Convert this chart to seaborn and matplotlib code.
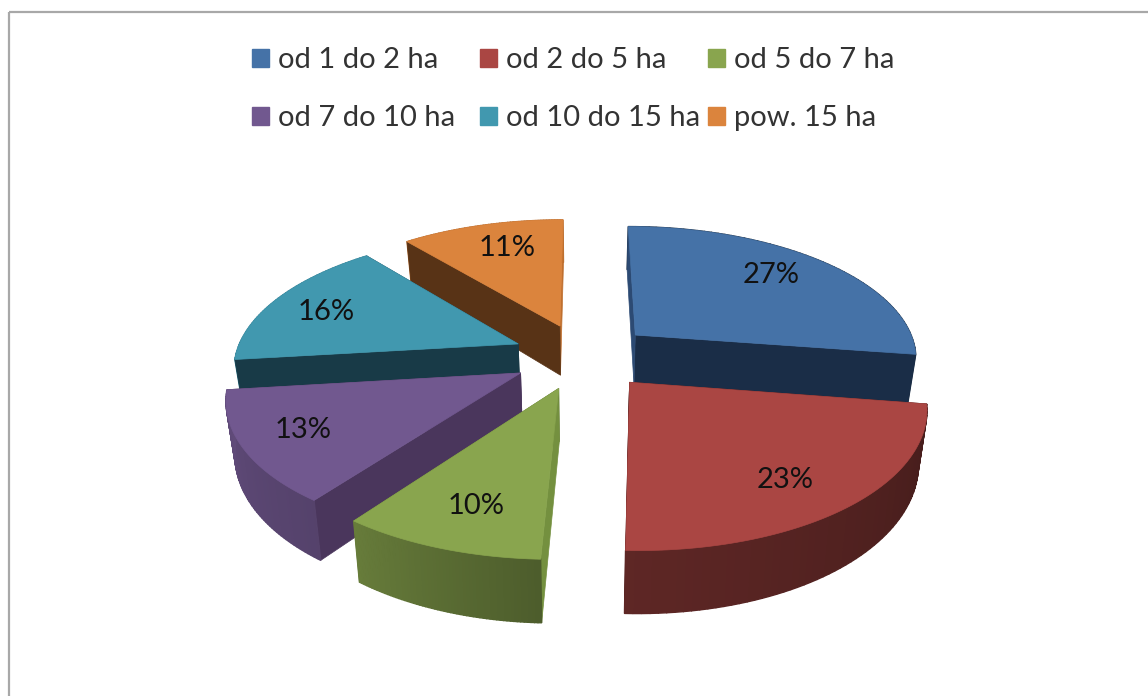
import numpy as np
import matplotlib
matplotlib.use("Agg")
import matplotlib.pyplot as plt
from matplotlib.patches import Patch, Rectangle
import seaborn as sns

labels = ["od 1 do 2 ha", "od 2 do 5 ha", "od 5 do 7 ha",
          "od 7 do 10 ha", "od 10 do 15 ha", "pow. 15 ha"]
shares = [27.4, 23.2, 9.5, 13.0, 15.9, 11.0]
colors = ["#4572A7", "#AA4643", "#89A54E", "#71588F", "#4198AF", "#DB843D"]
face_start = ["#2c4a73", "#3a1614", "#74903f", "#4a365c", "#183a47", "#583316"]
face_end = ["#1a2d47", "#3a1614", "#55692e", "#4a365c", "#183a47", "#c0702f"]
label_r = [0.70, 0.75, 0.68, 0.72, 0.62, 0.72]
label_nudge = [(3, -7), (-4, 8), (-6, 15), (-23, 4), (-39, -3), (5, -3)]
draw_order = [5, 4, 0, 3, 2, 1]
rim_behind = [True, False, False, False, True, True]
legend_columns = [(0, 3), (1, 4), (2, 5)]
legend_left = [228.6, 456.6, 684.6]

sns.set_theme(style="white")
plt.rcParams["font.family"] = ["Lato", "DejaVu Sans"]

fig = plt.figure(figsize=(11.48, 6.96), dpi=100)
ax = fig.add_axes([0, 0, 1, 1])
ax.set_xlim(0, 1148)
ax.set_ylim(696, 0)
ax.axis("off")

CX, CY, RX, RY, K, EXPL, DEPTH, SHRINK = 583, 356, 283, 132, 0.16, 0.25, 51, 0.975


def project(u, v, lower=False):
    w = 1 / (1 + K * v)
    x = CX + RX * u * w
    y = CY - RY * v * w
    if lower:
        x = CX + (x - CX) * SHRINK
        y = y + DEPTH * w
    return x, y


def rim_factor(t):
    return np.interp(t, [0, 97, 180, 216, 263, 360], [0.4, 0.40, 0.55, 0.75, 0.85, 0.85])


ends = np.cumsum(shares) / np.sum(shares) * 360
starts = ends - np.array(shares) / np.sum(shares) * 360

ax.add_patch(Rectangle((9, 12), 1400, 900, fill=False, ec="#a8a8a8", lw=1.6, zorder=1))

for z, i in enumerate(draw_order):
    t1, t2 = starts[i], ends[i]
    mid = np.radians((t1 + t2) / 2)
    ou, ov = EXPL * np.sin(mid), EXPL * np.cos(mid)
    th = np.radians(np.linspace(t1, t2, 60))
    au, av = ou + np.sin(th), ov + np.cos(th)
    zo = 2 + z
    # cut faces: the trailing face goes first so the leading one stays visible
    for idx, col in ((-1, face_end[i]), (0, face_start[i])):
        xa, ya = project(np.array([ou, au[idx]]), np.array([ov, av[idx]]))
        xb, yb = project(np.array([au[idx], ou]), np.array([av[idx], ov]), lower=True)
        ax.fill(np.r_[xa, xb], np.r_[ya, yb], color=col, lw=0.5, zorder=zo + 0.2)
    # outer rim, shaded segment by segment
    base = np.array(matplotlib.colors.to_rgb(colors[i]))
    rim_z = zo + (0.1 if rim_behind[i] else 0.3)
    for j in range(len(th) - 1):
        xa, ya = project(au[j:j + 2], av[j:j + 2])
        xb, yb = project(au[j:j + 2][::-1], av[j:j + 2][::-1], lower=True)
        f = rim_factor(np.degrees(th[j]))
        ax.fill(np.r_[xa, xb], np.r_[ya, yb], color=base * f, lw=1.0, zorder=rim_z)
    # top
    x, y = project(np.r_[ou, au], np.r_[ov, av])
    ax.fill(x, y, color=colors[i], lw=0.5, zorder=zo + 0.5)
    # label
    lx, ly = project(ou + label_r[i] * np.sin(mid), ov + label_r[i] * np.cos(mid))
    ax.text(lx + label_nudge[i][0], ly + label_nudge[i][1], f"{shares[i]:.0f}%",
            ha="center", va="center", fontsize=21, color="#111111", zorder=30)

legends = []
for col, left in zip(legend_columns, legend_left):
    legends.append(ax.legend([Patch(color=colors[i]) for i in col], [labels[i] for i in col],
                             loc="upper left", bbox_to_anchor=(left / 1148, 1 - 24 / 696),
                             frameon=False, fontsize=21, labelcolor="#333333",
                             handlelength=0.6, handleheight=0.6, handletextpad=0.31,
                             labelspacing=1.09, borderpad=0.3))
for leg in legends[:-1]:
    ax.add_artist(leg)

fig.savefig("out.png", dpi=100)
